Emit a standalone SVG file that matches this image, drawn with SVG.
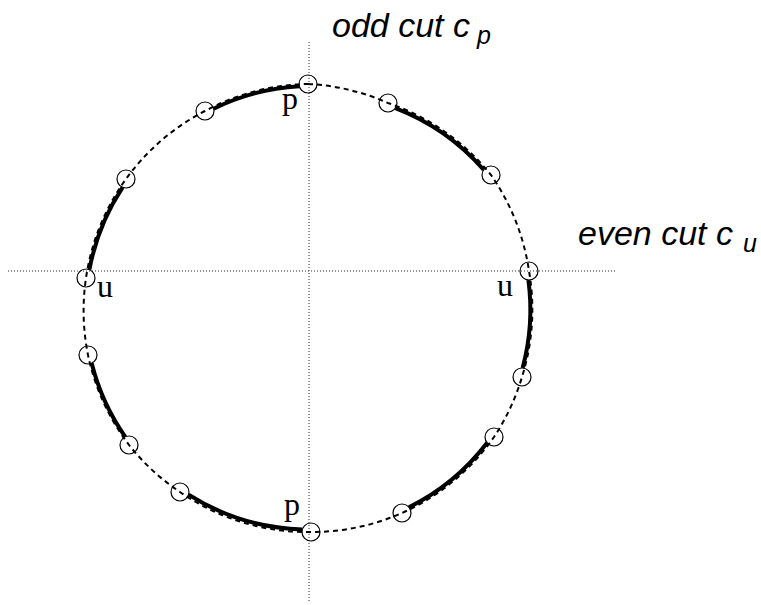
<svg xmlns="http://www.w3.org/2000/svg" width="761" height="605" viewBox="0 0 761 605">
<style>
.cut{fill:none;stroke:#333;stroke-width:1;stroke-dasharray:1 2}
.dash{fill:none;stroke:#000;stroke-width:2;stroke-dasharray:5 4}
.solid{fill:none;stroke:#000;stroke-width:4;stroke-linecap:butt}
.pt{fill:none;stroke:#000;stroke-width:1.2}
.lbl{font-family:"Liberation Serif","Times New Roman",serif;font-size:32px;fill:#000}
.cap{font-family:"Liberation Sans",Arial,sans-serif;font-style:italic;font-size:34px;fill:#000}
</style>
<rect width="761" height="605" fill="#fff"/>
<g id="cuts">
<line class="cut" x1="309" y1="42" x2="309" y2="603"/>
<line class="cut" x1="8" y1="271" x2="615" y2="271"/>
</g>
<g id="connectors">
<path class="dash" d="M308,84 A224,224 0 0 1 388,103 A224,224 0 0 1 491,175 A224,224 0 0 1 529,271 A224,224 0 0 1 522,377 A224,224 0 0 1 494,437 A224,224 0 0 1 402,513 A224,224 0 0 1 311,532 A224,224 0 0 1 180,492 A224,224 0 0 1 129,445 A224,224 0 0 1 88,355 A224,224 0 0 1 86,278 A224,224 0 0 1 126,179 A224,224 0 0 1 205,111 A224,224 0 0 1 308,84"/>
<path class="solid" d="M395.4,108.2 A224,224 0 0 1 483.6,169.8"/>
<path class="solid" d="M528.4,280 A224,224 0 0 1 522.6,368"/>
<path class="solid" d="M487.1,442.7 A224,224 0 0 1 408.9,507.3"/>
<path class="solid" d="M302.4,529.4 A224,224 0 0 1 188.6,494.6"/>
<path class="solid" d="M125.3,436.8 A224,224 0 0 1 91.7,363.2"/>
<path class="solid" d="M89.4,269.7 A224,224 0 0 1 122.6,187.3"/>
<path class="solid" d="M213.7,108.7 A224,224 0 0 1 299.3,86.3"/>
</g>
<g id="p-top"><circle class="pt" cx="308" cy="84" r="9"/><text class="lbl" x="282" y="109">p</text></g>
<g id="n1"><circle class="pt" cx="388" cy="103" r="9"/></g>
<g id="n2"><circle class="pt" cx="491" cy="175" r="9"/></g>
<g id="u-right"><circle class="pt" cx="529" cy="271" r="9"/><text class="lbl" x="497" y="296">u</text></g>
<g id="n4"><circle class="pt" cx="522" cy="377" r="9"/></g>
<g id="n5"><circle class="pt" cx="494" cy="437" r="9"/></g>
<g id="n6"><circle class="pt" cx="402" cy="513" r="9"/></g>
<g id="p-bottom"><circle class="pt" cx="311" cy="532" r="9"/><text class="lbl" x="284" y="515">p</text></g>
<g id="n8"><circle class="pt" cx="180" cy="492" r="9"/></g>
<g id="n9"><circle class="pt" cx="129" cy="445" r="9"/></g>
<g id="n10"><circle class="pt" cx="88" cy="355" r="9"/></g>
<g id="u-left"><circle class="pt" cx="86" cy="278" r="9"/><text class="lbl" x="97" y="297">u</text></g>
<g id="n12"><circle class="pt" cx="126" cy="179" r="9"/></g>
<g id="n13"><circle class="pt" cx="205" cy="111" r="9"/></g>
<g id="odd-cut"><text class="cap" x="332" y="37">odd cut c<tspan x="477" y="44" font-size="25">p</tspan></text></g>
<g id="even-cut"><text class="cap" x="578" y="245">even cut c<tspan x="743" y="252" font-size="25">u</tspan></text></g>
</svg>
